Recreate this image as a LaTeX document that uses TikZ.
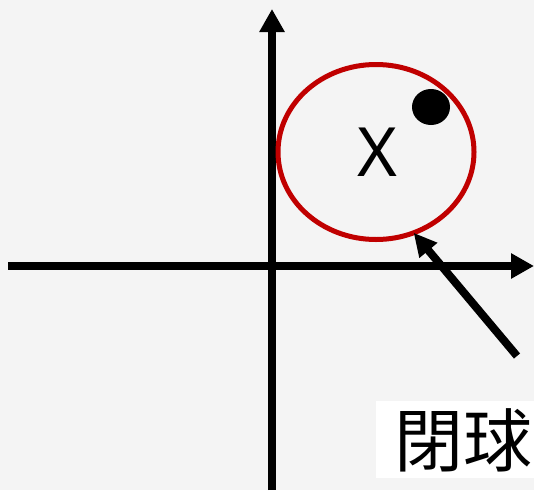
\documentclass[tikz,border=0pt]{standalone}
\usepackage{fontspec}
\newfontfamily\cjk{Noto Sans CJK TC}
\newfontfamily\xfont{Noto Sans}
\usetikzlibrary{arrows.meta,positioning,shapes.geometric}
\definecolor{bgGrey}{HTML}{F4F4F4}
\definecolor{ballRed}{HTML}{C00000}

\begin{document}
\begin{tikzpicture}[
  x=1pt, y=-1pt,
  axis/.style={line width=8pt, -{Triangle[length=23pt,width=24pt]}},
  pointer/.style={line width=8pt, -{Triangle[length=23pt,width=22pt]}},
  ballshape/.style={ellipse, draw=ballRed, line width=5pt, minimum width=196pt,
    minimum height=175pt, inner sep=0pt, outer sep=0pt},
  labelbox/.style={fill=white, inner xsep=18pt, inner ysep=0pt, minimum height=77pt,
    font=\cjk\fontsize{69}{69}\selectfont, anchor=north west}
]
\useasboundingbox[fill=bgGrey] (0,0) rectangle (534,490);
% axes
\coordinate (xstart) at (8,266);
\coordinate (xend) at (534,266);
\coordinate (ystart) at (272,490);
\coordinate (yend) at (272,9);
\draw[axis] (xstart) -- (xend);
\draw[axis] (ystart) -- (yend);
% closed ball
\node[ballshape] (ball) at (376,152) {};
\node[font=\xfont\fontsize{68}{68}\selectfont, inner sep=0pt] (centre) at (377,152.5) {X};
\fill (431,107) ellipse [x radius=19pt, y radius=18pt];
% label and pointer
\node[labelbox, minimum width=160pt, text depth=4pt] (label) at (376,401) {閉球};
\coordinate (tail) at (517,356);
\draw[pointer] (tail) -- (ball.-65);
\end{tikzpicture}
\end{document}
